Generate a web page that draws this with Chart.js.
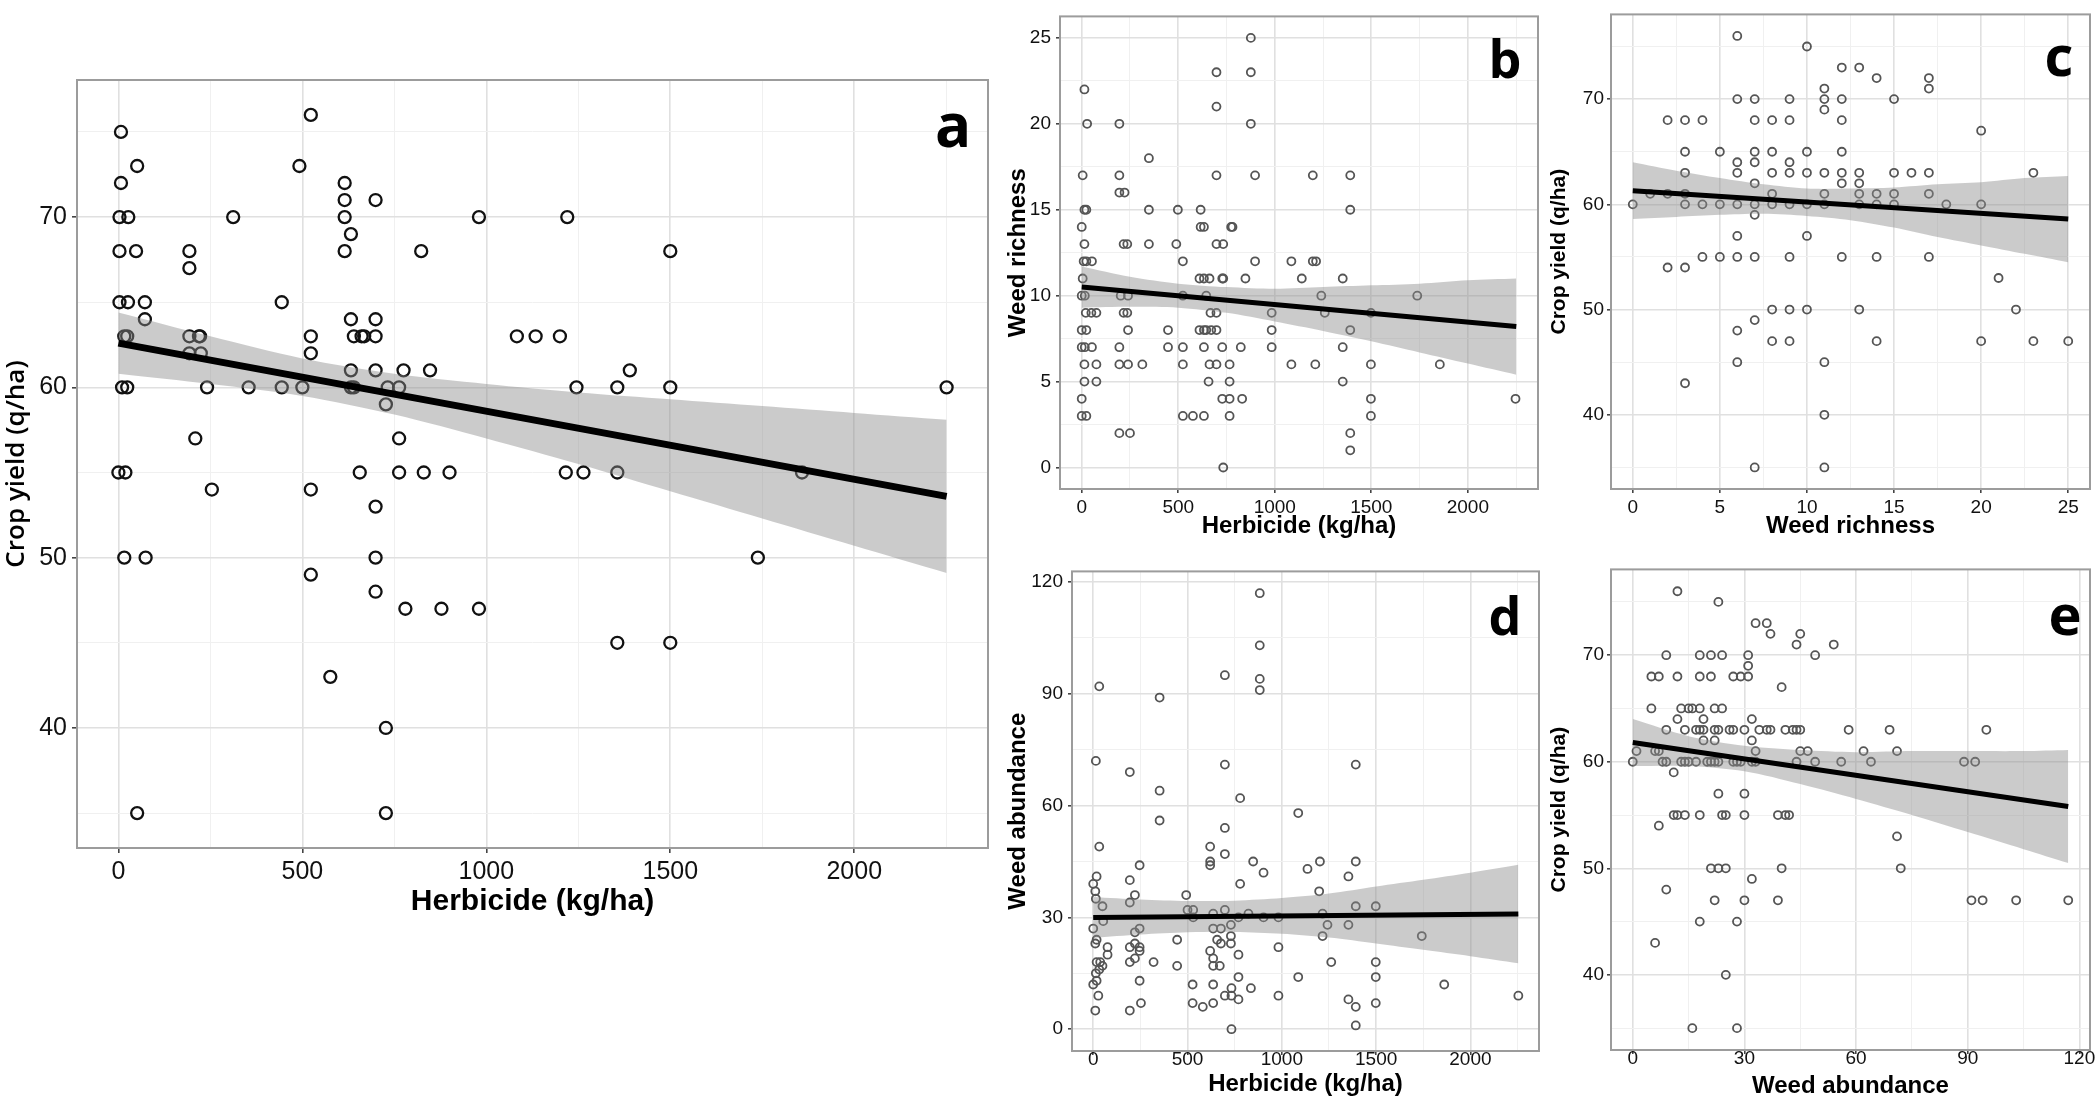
<!DOCTYPE html>
<html>
<head>
<meta charset="utf-8">
<script src="https://cdn.jsdelivr.net/npm/chart.js@4.4.1/dist/chart.umd.min.js"></script>
<style>
html, body { margin: 0; padding: 0; background: #fff; }
body { width: 2100px; height: 1107px; position: relative; overflow: hidden; }
.panel { position: absolute; }
</style>
</head>
<body>
<div class="panel" style="left:0;top:60px"><canvas id="chartA" width="1000" height="880"></canvas></div>
<div class="panel" style="left:1000px;top:0"><canvas id="chartB" width="545" height="550"></canvas></div>
<div class="panel" style="left:1545px;top:0"><canvas id="chartC" width="555" height="550"></canvas></div>
<div class="panel" style="left:1000px;top:555px"><canvas id="chartD" width="545" height="552"></canvas></div>
<div class="panel" style="left:1545px;top:555px"><canvas id="chartE" width="555" height="552"></canvas></div>
<script>
// tick values
const herbMajor = [0, 500, 1000, 1500, 2000];
const herbMinor = [250, 750, 1250, 1750, 2250];
const yieldMajor = [40, 50, 60, 70];
const yieldMinor = [35, 45, 55, 65, 75];
const richMajor = [0, 5, 10, 15, 20, 25];
const richMinor = [2.5, 7.5, 12.5, 17.5, 22.5];
const abundMajor = [0, 30, 60, 90, 120];
const abundMinor = [15, 45, 75, 105];

// a: herbicide vs crop yield
const aHerb = [7,523,51,492,7,615,615,699,3,27,312,615,980,1220,632,3,48,193,615,823,1500,193,3,26,72,444,72,632,699,
  16,24,193,219,222,523,640,661,668,699,1083,1134,1200,193,224,523,632,699,775,847,1390,
  10,24,241,354,444,500,632,640,732,763,1245,1356,1500,2251,727,209,763,
  0,19,656,763,830,900,1216,1264,1356,1858,254,523,699,16,74,699,1738,523,699,780,878,980,1356,1500,576,727,51,727];
const aYield = [75,76,73,73,72,72,71,71,70,70,70,70,70,70,69,68,68,68,68,68,68,67,65,65,65,65,64,64,64,
  63,63,63,63,63,63,63,63,63,63,63,63,63,62,62,62,61,61,61,61,61,
  60,60,60,60,60,60,60,60,60,60,60,60,60,60,59,57,57,
  55,55,55,55,55,55,55,55,55,55,54,54,53,50,50,50,50,49,48,47,47,47,45,45,43,40,35,35];
const aFitX = [0, 2251];
const aFitY = [62.6, 53.6];
const aBandX = [0, 250, 500, 750, 1000, 1250, 1500, 1750, 2000, 2251];
const aBandHi = [64.4, 63.0, 61.7, 60.8, 60.2, 59.7, 59.3, 58.9, 58.5, 58.1];
const aBandLo = [60.8, 60.2, 59.5, 58.4, 57.0, 55.5, 53.9, 52.3, 50.7, 49.1];

// b: herbicide vs weed richness
const bHerb = [876, 698,876, 14, 698, 28,195,876, 348, 5,195,698,898,1197,1391, 195,222,
  14,24,348,498,616,1391, 0,616,633,774,781, 14,217,236,348,490,698,733,
  10,24,53,524,898,1086,1197,1214, 5,610,633,662,728,733,848,1140,1352,
  0,16,202,240,524,645,1241,1738, 21,50,76,217,236,667,698,984,1259,1498,
  0,24,240,447,610,633,645,671,698,984,1391, 0,16,53,195,447,524,633,728,824,984,1352,
  14,76,195,240,314,524,662,698,766,1086,1210,1498,1855, 14,76,657,766,1352,
  0,728,766,831,1498,2247, 0,24,524,576,633,766,1498, 195,250,1391, 1391, 733];
const bRich = [25, 23,23, 22, 21, 20,20,20, 18, 17,17,17,17,17,17, 16,16,
  15,15,15,15,15,15, 14,14,14,14,14, 13,13,13,13,13,13,13,
  12,12,12,12,12,12,12,12, 11,11,11,11,11,11,11,11,11,
  10,10,10,10,10,10,10,10, 9,9,9,9,9,9,9,9,9,9,
  8,8,8,8,8,8,8,8,8,8,8, 7,7,7,7,7,7,7,7,7,7,7,
  6,6,6,6,6,6,6,6,6,6,6,6,6, 5,5,5,5,5,
  4,4,4,4,4,4, 3,3,3,3,3,3,3, 2,2,2, 1, 0];
const bFitX = [0, 2251];
const bFitY = [10.5, 8.2];
const bBandX = [0, 250, 500, 750, 1000, 1250, 1500, 1750, 2000, 2251];
const bBandHi = [11.7, 11.1, 10.7, 10.5, 10.4, 10.5, 10.6, 10.7, 10.9, 11.0];
const bBandLo = [9.3, 9.35, 9.3, 9.0, 8.5, 7.95, 7.35, 6.7, 6.05, 5.4];

// c: weed richness vs crop yield
const cRich = [6, 10, 12,13, 14,17, 11,17, 6,7,9,11,12,15, 11, 2,3,4,7,8,9,12, 20,
  3,5,7,8,10,12, 6,7,9, 3,6,8,9,10,11,12,13,15,16,17,23, 7,12,13,
  1,2,3,8,11,13,14,15,17, 0,3,4,5,6,7,8,9,10,11,13,14,15,18,20, 7, 6,10,
  4,5,6,7,9,12,14,17, 2,3, 21, 8,9,10,13,22, 7, 6, 8,9,14,20,23,25, 6,11, 3, 11, 7,11];
const cYield = [76, 75, 73,73, 72,72, 71,71, 70,70,70,70,70,70, 69, 68,68,68,68,68,68,68, 67,
  65,65,65,65,65,65, 64,64,64, 63,63,63,63,63,63,63,63,63,63,63,63, 62,62,62,
  61,61,61,61,61,61,61,61,61, 60,60,60,60,60,60,60,60,60,60,60,60,60,60,60, 59, 57,57,
  55,55,55,55,55,55,55,55, 54,54, 53, 50,50,50,50,50, 49, 48, 47,47,47,47,47,47, 45,45, 43, 40, 35,35];
const cFitX = [0, 25];
const cFitY = [61.3, 58.6];
const cBandX = [0, 2.5, 5, 7.5, 10, 12.5, 15, 17.5, 20, 22.5, 25];
const cBandHi = [64.0, 63.2, 62.5, 61.9, 61.5, 61.5, 61.6, 61.9, 62.1, 62.5, 62.7];
const cBandLo = [58.6, 58.8, 59.0, 59.1, 58.9, 58.5, 57.8, 56.9, 56.1, 55.3, 54.5];

// d: herbicide vs weed abundance
const dHerb = [883,883,698,883,883,32,352,14,194,698, 1392,352,779,1087,352,698,32,620,698,620,
  620,246,848,1202,1392,903,1136,194,1353,779, 0,18,11,14,221,1198,493,194,49,1392,
  1498,500,530,698,636,823,1216,530,770,903, 982,53,0,246,221,636,677,730,1242,1353,
  445,1216,1742,18,11,657,677,730,730,76, 76,194,221,246,246,982,620,770,221,636,
  18,37,49,194,320,1262,1498,445,636,671, 14,32,1087,770,1498,246,0,18,527,636,
  836,1861,733,27,698,733,982,2254,253,527, 636,770,1353,1498,581,1392,11,194,1392,733];
const dAbund = [117,103,95,94,91,92,89,72,69,71, 71,64,62,58,56,54,49,49,47,45,
  44,44,45,45,45,42,43,40,41,39, 39,41,37,35,36,37,36,34,33,33,
  33,32,32,32,31,31,31,30,30,30, 30,29,27,27,26,27,27,28,28,28,
  24,25,25,24,23,24,23,25,23,22, 20,22,23,22,21,22,21,20,19,19,
  18,18,17,18,18,18,18,17,17,17, 15,16,14,14,14,13,12,13,12,12,
  11,12,11,9,9,9,9,9,7,7, 7,8,8,7,6,6,5,5,1,0];
const dFitX = [0, 2254];
const dFitY = [30.0, 30.9];
const dBandX = [0, 250, 500, 750, 1000, 1250, 1500, 1750, 2000, 2254];
const dBandHi = [35.5, 34.8, 34.4, 34.5, 35.2, 36.4, 38.3, 40.1, 42.0, 44.1];
const dBandLo = [24.5, 25.4, 26.0, 26.1, 25.6, 24.6, 23.0, 21.3, 19.6, 17.7];

// e: weed abundance vs crop yield
const eAbund = [12, 23, 33,36, 37,45, 44,54, 9,18,21,24,31,49, 31, 5,7,12,18,21,27,29,31, 40,
  5,13,15,16,18,22,24, 12,19,32, 9,14,17,18,19,22,23,26,27,30,34,36,37,41,43,44,45,58,69,95,
  19,22,32, 1,6,7,33,45,47,62,71, 0,8,9,13,14,15,17,20,21,22,23,27,28,29,32,33,44,49,56,64,89,92,
  11, 23,30, 11,12,14,18,24,25,30,39,41,42, 7, 71, 21,23,25,40,72, 32, 9,
  22,30,39,91,94,103,117, 18,28, 6, 25, 16,28];
const eYield = [76, 75, 73,73, 72,72, 71,71, 70,70,70,70,70,70, 69, 68,68,68,68,68,68,68,68, 67,
  65,65,65,65,65,65,65, 64,64,64, 63,63,63,63,63,63,63,63,63,63,63,63,63,63,63,63,63,63,63,63,
  62,62,62, 61,61,61,61,61,61,61,61, 60,60,60,60,60,60,60,60,60,60,60,60,60,60,60,60,60,60,60,60,60,60,
  59, 57,57, 55,55,55,55,55,55,55,55,55,55, 54, 53, 50,50,50,50,50, 49, 48,
  47,47,47,47,47,47,47, 45,45, 43, 40, 35,35];
const eFitX = [0, 117];
const eFitY = [61.8, 55.8];
const eBandX = [0, 15, 30, 45, 60, 75, 90, 105, 117];
const eBandHi = [64.0, 62.4, 61.5, 61.1, 60.9, 61.0, 61.0, 61.0, 61.1];
const eBandLo = [59.6, 59.6, 59.1, 57.9, 56.5, 55.0, 53.4, 51.8, 50.5];

Chart.defaults.font.family = "'Liberation Sans', Arial, sans-serif";

// frame round the plot area and the panel letter
const panelDecor = {
  id: 'panelDecor',
  afterDraw(chart, args, opts) {
    const a = chart.chartArea, g = chart.ctx;
    g.save();
    g.strokeStyle = '#9c9c9c';
    g.lineWidth = 2;
    g.strokeRect(a.left, a.top, a.right - a.left, a.bottom - a.top);
    g.fillStyle = '#000';
    g.font = opts.font;
    g.textAlign = 'center';
    g.textBaseline = 'alphabetic';
    g.fillText(opts.letter, a.right + opts.dx, a.top + opts.dy);
    g.restore();
  }
};
Chart.register(panelDecor);

function pairs(xs, ys) {
  return xs.map((x, i) => ({ x: x, y: ys[i] }));
}

function axis(o) {
  const all = o.major.concat(o.minor).sort((p, q) => p - q);
  const isMajor = c => c.tick && o.major.includes(c.tick.value);
  return {
    type: 'linear',
    min: o.min,
    max: o.max,
    afterBuildTicks: s => { s.ticks = all.map(v => ({ value: v })); },
    afterFit: s => { if (o.horizontal) s.height = o.size; else s.width = o.size; },
    ticks: {
      autoSkip: false, maxRotation: 0, minRotation: 0,
      padding: o.tickPad,
      color: '#111',
      font: { size: o.tickSize },
      callback: v => o.major.includes(v) ? String(v) : ''
    },
    grid: {
      color: c => isMajor(c) ? '#e0e0e0' : '#f0f0f0',
      lineWidth: c => isMajor(c) ? 1.6 : 1,
      tickColor: c => isMajor(c) ? '#444' : 'rgba(0,0,0,0)',
      tickLength: o.tickLen,
      drawTicks: true
    },
    border: { display: false },
    title: { display: true, text: o.title, color: '#000', font: o.titleFont, padding: o.titlePad }
  };
}

function buildPanel(id, p) {
  const ctx = document.getElementById(id).getContext('2d');
  return new Chart(ctx, {
    type: 'scatter',
    data: {
      datasets: [
        { type: 'line', data: pairs(p.fitX, p.fitY), borderColor: '#000', borderWidth: p.fitWidth,
          pointRadius: 0, fill: false },
        { type: 'line', data: pairs(p.bandX, p.bandHi), borderColor: 'rgba(0,0,0,0)', borderWidth: 1,
          pointRadius: 0, backgroundColor: 'rgba(140,140,140,0.45)', fill: '+1', tension: 0.3 },
        { type: 'line', data: pairs(p.bandX, p.bandLo), borderColor: 'rgba(0,0,0,0)', borderWidth: 1,
          pointRadius: 0, fill: false, tension: 0.3 },
        { data: pairs(p.xs, p.ys), pointStyle: 'circle', pointRadius: p.r, pointBorderWidth: p.bw,
          pointBorderColor: p.pc, pointBackgroundColor: 'rgba(0,0,0,0)' }
      ]
    },
    options: {
      responsive: false,
      animation: false,
      devicePixelRatio: 1,
      layout: { padding: p.pad },
      plugins: {
        legend: { display: false },
        tooltip: { enabled: false },
        panelDecor: p.letter
      },
      scales: { x: axis(p.x), y: axis(p.y) }
    }
  });
}

const bigTitle = { family: "'Liberation Sans', Arial, sans-serif", size: 30, weight: 'bold' };
const smallTitle = { family: "'Liberation Sans', Arial, sans-serif", size: 24, weight: 'bold' };

buildPanel('chartA', {
  xs: aHerb, ys: aYield, fitX: aFitX, fitY: aFitY, bandX: aBandX, bandHi: aBandHi, bandLo: aBandLo,
  r: 6, bw: 2.3, pc: '#111', fitWidth: 7,
  pad: { left: 0, top: 15, right: 12, bottom: 0 },
  letter: { letter: 'a', font: "bold 60px 'Open Sans', sans-serif", dx: -35, dy: 67 },
  x: { horizontal: true, min: -112.5, max: 2363.5, major: herbMajor, minor: herbMinor, size: 92,
       tickSize: 25, tickLen: 5, tickPad: 4, title: 'Herbicide (kg/ha)', titleFont: bigTitle,
       titlePad: { top: 0, bottom: 20 } },
  y: { horizontal: false, min: 32.95, max: 78.05, major: yieldMajor, minor: yieldMinor, size: 77,
       tickSize: 25, tickLen: 5, tickPad: 5, title: 'Crop yield (q/ha)',
       titleFont: { family: "'Open Sans', sans-serif", size: 26, weight: '600' },
       titlePad: { top: 1, bottom: 0 } }
});

buildPanel('chartB', {
  xs: bHerb, ys: bRich, fitX: bFitX, fitY: bFitY, bandX: bBandX, bandHi: bBandHi, bandLo: bBandLo,
  r: 4, bw: 1.8, pc: '#555', fitWidth: 5,
  pad: { left: 0, top: 4, right: 7, bottom: 0 },
  letter: { letter: 'b', font: "bold 52px 'Open Sans', sans-serif", dx: -33, dy: 62 },
  x: { horizontal: true, min: -112.5, max: 2363.5, major: herbMajor, minor: herbMinor, size: 61,
       tickSize: 19, tickLen: 4, tickPad: 3, title: 'Herbicide (kg/ha)', titleFont: smallTitle,
       titlePad: { top: 0, bottom: 9 } },
  y: { horizontal: false, min: -1.25, max: 26.25, major: richMajor, minor: richMinor, size: 60,
       tickSize: 19, tickLen: 4, tickPad: 5, title: 'Weed richness', titleFont: smallTitle,
       titlePad: { top: 4, bottom: 0 } }
});

buildPanel('chartC', {
  xs: cRich, ys: cYield, fitX: cFitX, fitY: cFitY, bandX: cBandX, bandHi: cBandHi, bandLo: cBandLo,
  r: 4, bw: 1.8, pc: '#555', fitWidth: 5,
  pad: { left: 0, top: 4, right: 10, bottom: 0 },
  letter: { letter: 'c', font: "bold 56px 'Open Sans', sans-serif", dx: -31, dy: 62 },
  x: { horizontal: true, min: -1.25, max: 26.25, major: richMajor, minor: richMinor, size: 61,
       tickSize: 19, tickLen: 4, tickPad: 3, title: 'Weed richness', titleFont: smallTitle,
       titlePad: { top: 0, bottom: 9 } },
  y: { horizontal: false, min: 32.95, max: 78.05, major: yieldMajor, minor: yieldMinor, size: 66,
       tickSize: 19, tickLen: 4, tickPad: 3, title: 'Crop yield (q/ha)',
       titleFont: { family: "'Liberation Sans', Arial, sans-serif", size: 21, weight: 'bold' },
       titlePad: { top: 2, bottom: 0 } }
});

buildPanel('chartD', {
  xs: dHerb, ys: dAbund, fitX: dFitX, fitY: dFitY, bandX: dBandX, bandHi: dBandHi, bandLo: dBandLo,
  r: 4, bw: 1.8, pc: '#555', fitWidth: 5,
  pad: { left: 0, top: 11, right: 6, bottom: 0 },
  letter: { letter: 'd', font: "bold 52px 'Open Sans', sans-serif", dx: -34, dy: 64 },
  x: { horizontal: true, min: -112.5, max: 2363.5, major: herbMajor, minor: herbMinor, size: 56,
       tickSize: 19, tickLen: 4, tickPad: -7, title: 'Herbicide (kg/ha)', titleFont: smallTitle,
       titlePad: { top: 0, bottom: 8 } },
  y: { horizontal: false, min: -5.85, max: 122.85, major: abundMajor, minor: abundMinor, size: 72,
       tickSize: 19, tickLen: 4, tickPad: 5, title: 'Weed abundance', titleFont: smallTitle,
       titlePad: { top: 4, bottom: 0 } }
});

buildPanel('chartE', {
  xs: eAbund, ys: eYield, fitX: eFitX, fitY: eFitY, bandX: eBandX, bandHi: eBandHi, bandLo: eBandLo,
  r: 4, bw: 1.8, pc: '#555', fitWidth: 5,
  pad: { left: 0, top: 11, right: 10, bottom: 0 },
  letter: { letter: 'e', font: "bold 56px 'Open Sans', sans-serif", dx: -25, dy: 66 },
  x: { horizontal: true, min: -5.85, max: 122.85, major: abundMajor, minor: abundMinor, size: 57,
       tickSize: 19, tickLen: 4, tickPad: -7, title: 'Weed abundance', titleFont: smallTitle,
       titlePad: { top: 0, bottom: 6 } },
  y: { horizontal: false, min: 32.95, max: 78.05, major: yieldMajor, minor: yieldMinor, size: 66,
       tickSize: 19, tickLen: 4, tickPad: 3, title: 'Crop yield (q/ha)',
       titleFont: { family: "'Liberation Sans', Arial, sans-serif", size: 21, weight: 'bold' },
       titlePad: { top: 2, bottom: 0 } }
});
</script>
</body>
</html>
